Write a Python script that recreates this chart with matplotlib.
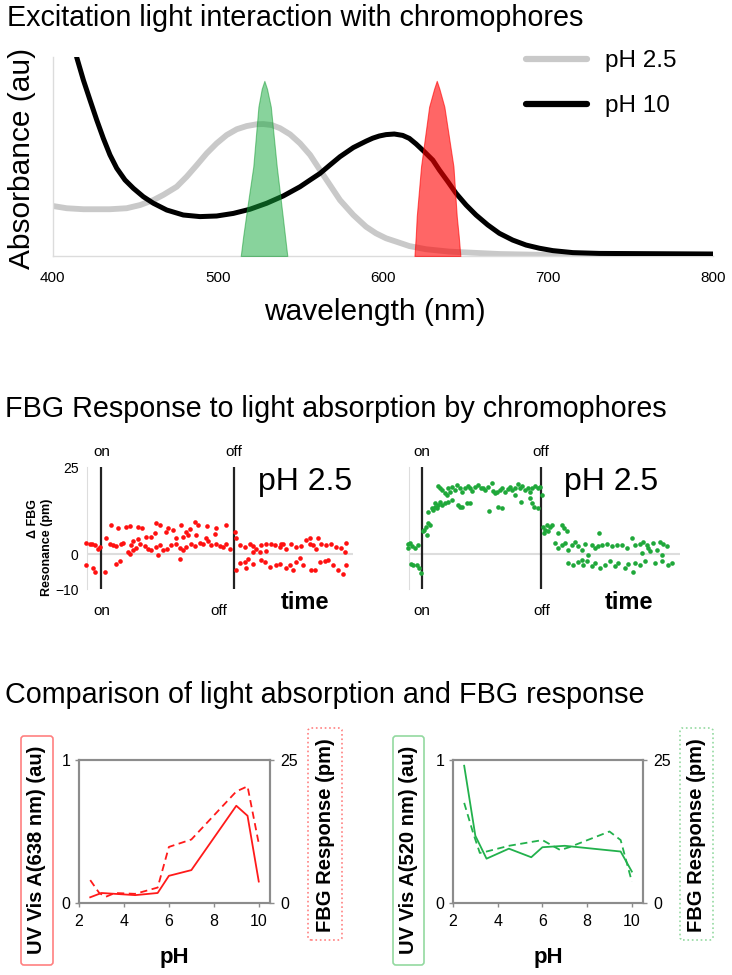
import matplotlib
matplotlib.use("Agg")
import matplotlib.pyplot as plt
import matplotlib.transforms as mtransforms
from matplotlib.patches import FancyBboxPatch

plt.rcParams['font.family'] = ['Liberation Sans', 'DejaVu Sans']

# ---------------- data: top panel (absorbance spectra) ----------------
nm_ph10 = [414.6, 418.7, 422.7, 426.8, 430.8, 434.8, 438.9, 443.9, 449.0, 455.0, 461.1,
           469.2, 479.2, 489.3, 499.4, 509.5, 519.6, 529.7, 539.8, 549.9, 556.0, 562.0,
           568.0, 574.1, 582.2, 589.9, 593.9, 597.9, 602.0, 607.0, 612.1, 616.1, 620.2,
           625.2, 630.3, 634.3, 639.4, 644.4, 650.5, 656.5, 663.6, 670.6, 678.7, 686.8,
           694.9, 703.0, 715.1, 731.2, 800.0]
abs_ph10 = [1.0, 0.884, 0.784, 0.683, 0.591, 0.508, 0.441, 0.382, 0.340, 0.298, 0.265,
            0.231, 0.206, 0.198, 0.201, 0.214, 0.235, 0.265, 0.302, 0.348, 0.382, 0.415,
            0.457, 0.499, 0.545, 0.577, 0.592, 0.603, 0.610, 0.613, 0.606, 0.591, 0.563,
            0.524, 0.482, 0.432, 0.374, 0.315, 0.256, 0.206, 0.156, 0.114, 0.080, 0.055,
            0.039, 0.027, 0.017, 0.013, 0.010]
nm_ph25 = [400.5, 408.6, 418.7, 434.8, 444.9, 453.0, 461.1, 467.1, 475.2, 481.3, 487.4,
           493.4, 499.4, 505.5, 511.6, 517.6, 523.7, 527.7, 532.8, 537.8, 543.9, 549.9,
           556.0, 562.0, 568.0, 574.1, 582.2, 589.9, 595.9, 602.0, 610.0, 616.1, 626.2,
           640.3, 670.6, 700.9, 800.0]
abs_ph25 = [0.251, 0.240, 0.235, 0.235, 0.240, 0.256, 0.281, 0.307, 0.348, 0.399, 0.457,
            0.516, 0.566, 0.608, 0.637, 0.653, 0.662, 0.663, 0.658, 0.642, 0.611, 0.566,
            0.508, 0.432, 0.357, 0.281, 0.206, 0.147, 0.114, 0.089, 0.067, 0.050, 0.034,
            0.022, 0.010, 0.005, 0.005]
green_nm = [514.0, 515.5, 517.2, 521.6, 524.7, 526.7, 528.3, 529.9, 532.2, 535.8, 539.4,
            540.8, 542.2]
green_band = [0.0, 0.1, 0.2, 0.45, 0.75, 0.84, 0.88, 0.84, 0.75, 0.45, 0.2, 0.1, 0.0]
red_nm = [619.2, 620.0, 620.6, 623.2, 628.1, 631.1, 632.7, 634.3, 637.3, 642.8, 644.8,
          646.0, 647.0]
red_band = [0.0, 0.1, 0.2, 0.45, 0.75, 0.84, 0.88, 0.84, 0.75, 0.45, 0.2, 0.1, 0.0]
wl_ticks = [400, 500, 600, 700, 800]

# ---------------- data: middle panels (FBG time response) ----------------
red_t = [6.7, 10, 12.7, 15, 6, 13.3, 15, 18.3, 25, 20,
         31.7, 38.3, 46.7, 50.7, 58.3, 62.7, 76, 80, 88.3, 93.3, 101.7, 106.7, 115, 118.3,
         127.3, 136.7, 146, 110, 116.7, 135, 108.3, 86.7, 66.7, 71.7, 75,
         26.7, 30, 33.3, 36.7, 41.7, 43.3, 48.3, 51.7, 53.3, 56.7, 60, 65, 68.3, 71.7, 76.7,
         80, 83.3, 87.3, 91.7, 96.7, 100, 103.3, 106.7, 111.7, 115, 120, 123.3, 128.3, 131.7,
         136.7, 140, 143.3, 146.7, 150, 58.3, 53.3, 96.7, 103.3, 126.7,
         36.7, 40, 50, 100, 78.3,
         155, 156.7, 160, 165, 170, 173.3, 176.7, 181.7, 186.7, 191.7, 195, 200, 203.3, 206.7,
         211.7, 216.7, 221.7, 226.7, 230, 233.3, 238.3, 241.7, 246.7, 251.7, 256.7, 261.7,
         266.7, 201.7, 230, 236.7, 186.7, 180, 173.3, 265,
         156.7, 160, 165, 168.3, 173.3, 181.7, 185, 190, 196.7, 200, 206.7, 210, 213.3, 220,
         223.3, 231.7, 235, 240, 245, 248.3, 253.3, 258.3, 263.3, 266.7, 166.7, 216.7]
red_v = [3.3, 2.8, 3.0, 2.6, -3.0, -4.1, -5.0, 1.6, -5.0, 2.1,
         8.3, 7.5, 7.8, 8.0, 7.8, 7.5, 8.8, 8.3, 7.5, 6.9, 8.3, 6.4, 9.2, 8.5,
         8.0, 7.5, 8.3, 7.1, 5.4, 5.9, 5.4, 6.4, 5.0, 5.0, 6.2,
         4.5, 3.0, 2.6, 2.4, 2.8, 3.3, 0.7, 2.6, 1.1, 1.8, 3.0, 2.4, 1.6, 1.1, 2.1,
         2.6, 1.1, 1.4, 2.6, 2.8, 1.8, 1.3, 2.1, 2.8, 2.4, 3.3, 3.0, 3.7, 2.6,
         3.0, 2.4, 2.1, 2.8, 1.6, 4.3, 3.7, 4.5, 5.0, 4.5,
         -2.7, -2.0, -0.1, -1.4, -0.3,
         6.4, 4.5, 2.6, 2.1, 2.8, 2.4, 1.6, 2.6, 0.9, 3.0, 2.6, 2.1, 2.8, 1.6,
         2.8, 2.1, 2.4, 4.0, 3.0, 2.6, 4.5, 2.8, 2.6, 2.8, 2.1, 1.8,
         3.3, 3.0, 4.5, 1.6, 2.8, 0.7, 0.5, 0.7,
         -4.6, -2.4, -2.2, -1.4, -2.7, -1.7, -2.2, -3.6, -3.1, -2.7, -4.1, -3.1, -4.6, -1.2,
         -3.1, -4.6, -4.6, -2.2, -2.0, -1.7, -3.0, -4.6, -5.8, -3.1, -4.1, -2.2]
red_on, red_off = 21.7, 154.0

green_t = [12.7, 15, 16.7, 20, 23.3, 16, 18.3, 21.7, 24, 26, 13.3,
           28.3, 30.7, 33.3, 31.7, 29.3, 35,
           33.3, 36.7, 40, 43.3, 38.3, 41.7, 46.7, 50, 45, 53.3, 56.7, 63.3, 66.7, 71.7, 40,
           42.7, 45, 47.3, 50, 51.7, 53.3, 55, 57.3, 60, 61.7, 65, 66.7, 70, 72.7, 75, 77.3,
           80, 83.3, 86, 88.3, 90, 93.3, 96.7, 98.3, 100, 101.7, 105, 107.3, 110, 112.7, 115,
           117.3, 120, 122.7, 125, 127.3, 130, 132.7, 135, 137.3, 140, 142.7, 145, 146.7, 120,
           65, 75, 94.3, 103.3, 107.3, 126, 136.7, 139.3, 143.3, 135,
           148.3, 150, 151.7, 153.3, 155, 149.3, 156.7, 163.3, 166.7, 169.3, 171.7,
           160, 163.3, 166.7, 170, 173.3, 176.7, 180, 183.3, 186.7, 190, 196.7, 200, 203.3,
           206.7, 211.7, 216.7, 221.7, 226.7, 231.7, 236.7, 240, 245, 248.3, 251.7, 255,
           258.3, 261.7, 265, 268.3, 271.7, 204, 246.7, 266.7, 253.3,
           173.3, 178.3, 183.3, 188.3, 191.7, 196.7, 200, 205, 210, 215, 220, 223.3, 230,
           233.3, 238.3, 240, 245, 250, 260, 266.7, 273.3, 276.7, 193.3, 186.7]
green_v = [2.9, 3.1, 2.2, 1.9, 2.7, -2.9, -3.0, -3.0, -4.0, -5.5, 1.7,
           6.5, 7.9, 8.9, 5.5, 7.0, 8.3,
           12.2, 13.1, 13.6, 14.1, 12.7, 13.1, 14.1, 14.6, 15.0, 15.0, 15.5, 14.1, 13.6, 14.6, 14.6,
           19.6, 18.9, 18.4, 17.4, 17.0, 18.9, 17.9, 19.3, 18.4, 19.8, 18.9, 17.7, 19.0, 19.6,
           18.9, 18.1, 19.3, 19.8, 18.9, 19.1, 18.4, 19.3, 20.3, 18.1, 17.4, 17.7, 18.4, 19.0,
           17.9, 18.7, 19.3, 18.4, 18.9, 20.0, 19.0, 19.6, 18.4, 18.9, 17.7, 19.0, 19.6, 18.9,
           19.3, 17.1, 17.0,
           13.6, 14.6, 12.4, 13.6, 13.3, 15.0, 14.6, 13.6, 13.1, 16.0,
           7.9, 7.0, 8.4, 6.5, 7.9, 6.0, 8.4, 6.0, 8.4, 7.4, 6.5,
           3.1, 1.7, 2.5, 3.1, 1.2, 2.7, 3.4, 2.2, 1.2, 2.9, 2.7, 1.7, 2.2,
           2.7, 2.9, 2.2, 2.5, 2.7, 1.9, 4.6, 2.7, 2.9, 3.4, 2.5, 0.8,
           3.1, 1.2, 3.6, 2.9, 2.2, 6.0, 0.3, -0.2, 1.7,
           -2.6, -3.0, -2.3, -3.0, -2.1, -3.5, -2.6, -4.0, -3.0, -2.1, -3.5, -2.6, -4.0,
           -2.9, -5.1, -2.6, -3.0, -2.1, -2.6, -1.9, -3.0, -2.6, -0.2, -1.6]
green_on, green_off = 27.3, 146.0
fbg_ticks = [-10, 0, 25]

# ---------------- data: bottom panels (pH dependence) ----------------
ph_uv_red = [2.5, 3.0, 4.5, 5.5, 6.0, 7.0, 9.0, 9.5, 10.0]
uv_red = [0.04, 0.07, 0.055, 0.07, 0.19, 0.23, 0.68, 0.61, 0.15]
ph_fbg_red = [2.5, 2.9, 3.2, 3.6, 4.5, 5.5, 6.0, 7.0, 9.0, 9.5, 10.0]
fbg_red = [4.0, 1.75, 1.1, 1.75, 1.6, 2.7, 9.8, 11.1, 19.5, 20.4, 10.4]

ph_uv_green = [2.5, 3.0, 3.5, 4.5, 5.5, 6.0, 7.0, 9.5, 10.0]
uv_green = [0.96, 0.47, 0.31, 0.38, 0.32, 0.39, 0.40, 0.36, 0.22]
ph_fbg_green = [2.5, 2.9, 3.2, 3.5, 4.5, 6.0, 6.8, 7.2, 9.0, 9.5, 10.0]
fbg_green = [17.5, 12.25, 8.75, 9.0, 10.0, 11.0, 9.25, 9.75, 12.5, 11.0, 3.75]
ph_ticks = [2, 4, 6, 8, 10]

# ---------------- figure ----------------
W, H = 732, 975
fig = plt.figure(figsize=(W / 100, H / 100), dpi=100)


def px_axes(x0, y0, x1, y1):
    return fig.add_axes([x0 / W, 1 - y1 / H, (x1 - x0) / W, (y1 - y0) / H])


def px_box(x0, y0, x1, y1, color, ls):
    p = FancyBboxPatch((x0 / 100, (H - y1) / 100), (x1 - x0) / 100, (y1 - y0) / 100,
                       boxstyle="round,pad=0,rounding_size=0.03",
                       transform=fig.dpi_scale_trans, fill=False,
                       edgecolor=color, linewidth=1.2, linestyle=ls)
    fig.add_artist(p)


TITLE_FS = 20.7

# ---- top panel ----
fig.text(7 / W, 1 - 18 / H, "Excitation light interaction with chromophores",
         fontsize=TITLE_FS, ha='left', va='center')
ax = px_axes(52.5, 57, 713, 256)
ax.plot(nm_ph25, abs_ph25, color='#c9c9c9', lw=4.2, solid_capstyle='round',
        solid_joinstyle='round', label='pH 2.5', zorder=2)
ax.plot(nm_ph10, abs_ph10, color='black', lw=3.6, solid_capstyle='round',
        solid_joinstyle='round', label='pH 10', zorder=3)
ax.fill_between(green_nm, green_band, facecolor='#12a83a', alpha=0.5,
                edgecolor='#129a30', lw=0.8, zorder=4)
ax.fill_between(red_nm, red_band, facecolor='#ff0000', alpha=0.6,
                edgecolor='#ff0000', lw=0.8, zorder=4)
ax.set_xlim(400, 800)
ax.set_ylim(0, 1)
ax.set_xticks(wl_ticks)
ax.set_yticks([])
ax.tick_params(axis='x', length=0, pad=11, labelsize=11)
for s in ['top', 'right']:
    ax.spines[s].set_visible(False)
for s in ['left', 'bottom']:
    ax.spines[s].set_color('#dcdcdc')
    ax.spines[s].set_linewidth(1.0)
ax.set_xlabel('wavelength (nm)', fontsize=21.5, va='center')
ax.xaxis.set_label_coords(0.4875, -0.281)
ax.set_ylabel('Absorbance (au)', fontsize=21.5, va='center')
ax.yaxis.set_label_coords(-0.046, 0.492)
leg = ax.legend(loc='upper left', bbox_to_anchor=(0.717, 1.035), frameon=False,
                fontsize=17.5, handlelength=2.5, handletextpad=0.75, labelspacing=0.95,
                borderpad=0, borderaxespad=0)
for line in leg.get_lines():
    line.set_linewidth(4.5)

# ---- middle panels ----
fig.text(5 / W, 1 - 409 / H, "FBG Response to light absorption by chromophores",
         fontsize=TITLE_FS, ha='left', va='center')


def response_panel(x0, x1, tmin, tmax, t, v, color, t_on, t_off, off_bottom, show_y):
    a = px_axes(x0, 467, x1, 589)
    a.set_xlim(tmin, tmax)
    a.set_ylim(-10, 25)
    a.axhline(0, color='#dddddd', lw=1.5, zorder=0)
    a.axvline(t_on, color='#222222', lw=1.6, zorder=2)
    a.axvline(t_off, color='#222222', lw=1.6, zorder=2)
    a.scatter(t, v, s=11, color=color, linewidths=0, clip_on=False, zorder=3)
    for s in ['top', 'right', 'bottom']:
        a.spines[s].set_visible(False)
    a.spines['left'].set_color('#dddddd')
    a.set_xticks([])
    if show_y:
        a.set_yticks(fbg_ticks)
        a.tick_params(axis='y', length=0, pad=6, labelsize=10)
        a.set_ylabel('\u0394 FBG\nResonance (pm)', fontsize=9, fontweight='bold',
                     multialignment='right', va='center', linespacing=1.15)
        a.yaxis.set_label_coords(-0.177, 0.34)
    else:
        a.set_yticks([])
    tr = mtransforms.blended_transform_factory(a.transData, a.transAxes)
    a.text(t_on, 1.123, 'on', transform=tr, ha='center', va='center', fontsize=11)
    a.text(t_off, 1.123, 'off', transform=tr, ha='center', va='center', fontsize=11)
    a.text(t_on, -0.18, 'on', transform=tr, ha='center', va='center', fontsize=11)
    a.text(off_bottom, -0.18, 'off', transform=tr, ha='center', va='center', fontsize=11)
    return a


axm1 = response_panel(87, 353, 7.3, 273.3, red_t, red_v, '#ff1010',
                      red_on, red_off, 139.0, True)
axm1.text(0.818, 0.877, 'pH 2.5', transform=axm1.transAxes, fontsize=23,
          ha='center', va='center')
axm1.set_xlabel('time', fontsize=17, fontweight='bold', va='center')
axm1.xaxis.set_label_coords(0.82, -0.107)

axm2 = response_panel(409, 680, 14.0, 285.0, green_t, green_v, '#1fa83a',
                      green_on, green_off, 147.0, False)
axm2.text(0.745, 0.877, 'pH 2.5', transform=axm2.transAxes, fontsize=23,
          ha='center', va='center')
axm2.set_xlabel('time', fontsize=17, fontweight='bold', va='center')
axm2.xaxis.set_label_coords(0.812, -0.107)

# ---- bottom panels ----
fig.text(5 / W, 1 - 695 / H, "Comparison of light absorption and FBG response",
         fontsize=TITLE_FS, ha='left', va='center')

SP = '#8c8c8c'


def ph_panel(x0, x1, ph_uv, uv, ph_fbg, fbg, color, uv_label, box_color,
             uv_lab_x, fbg_lab_x, uv_box, fbg_box):
    a = px_axes(x0, 760, x1, 903)
    a.plot(ph_uv, uv, color=color, lw=1.3, zorder=3)
    a2 = a.twinx()
    a2.plot(ph_fbg, fbg, color=color, lw=1.3, dashes=(4, 2.5), zorder=3)
    a.set_xlim(2, 10.5)
    a.set_ylim(0, 1)
    a2.set_ylim(0, 25)
    a.set_xticks(ph_ticks)
    a.set_yticks([0, 1])
    a2.set_yticks([0, 25])
    for ax_ in (a, a2):
        for s in ax_.spines.values():
            s.set_color(SP)
            s.set_linewidth(1.5)
    a.tick_params(axis='x', length=3, width=1, color=SP, labelsize=11.5, pad=5)
    a.tick_params(axis='y', length=3, width=1, color=SP, labelsize=11.5, pad=3)
    a2.tick_params(axis='y', length=3, width=1, color=SP, labelsize=11.5, pad=4.5)
    a.set_xlabel('pH', fontsize=16, fontweight='bold', va='center')
    a.xaxis.set_label_coords(0.5, -0.378)
    a.set_ylabel(uv_label, fontsize=14.5, fontweight='bold', va='center')
    a.yaxis.set_label_coords(uv_lab_x, 0.371)
    a2.set_ylabel('FBG Response (pm)', fontsize=14.5, fontweight='bold', va='center',
                  rotation=90)
    a2.yaxis.set_label_coords(fbg_lab_x, 0.472)
    px_box(*uv_box, box_color, '-')
    px_box(*fbg_box, box_color, ':')
    return a, a2


ph_panel(79, 270, ph_uv_red, uv_red, ph_fbg_red, fbg_red, '#ff1a1a',
         'UV Vis A(638 nm) (au)', '#ff8080', -0.22, 1.288,
         (21, 736, 53, 965), (308, 728, 342, 940))
ph_panel(453, 643, ph_uv_green, uv_green, ph_fbg_green, fbg_green, '#22b14c',
         'UV Vis A(520 nm) (au)', '#93d9a0', -0.234, 1.282,
         (393, 736, 424, 965), (680, 728, 713, 940))

fig.savefig('out.png', dpi=100)
